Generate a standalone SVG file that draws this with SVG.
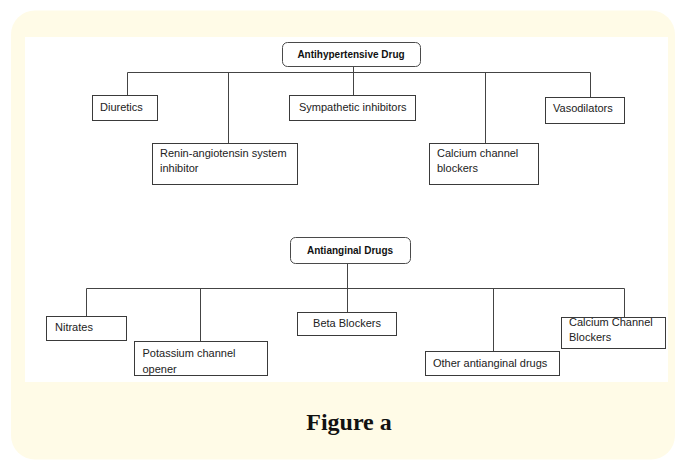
<svg xmlns="http://www.w3.org/2000/svg" width="679" height="462" viewBox="0 0 679 462">
  <style>
    .box { fill: #ffffff; stroke: #3a3a3a; stroke-width: 1; }
    .root { fill: #ffffff; stroke: #4a4a4a; stroke-width: 1; }
    .lbl { font-family: "Liberation Sans", Arial, sans-serif; font-size: 11px; fill: #222; }
    .rlbl { font-family: "Liberation Sans", Arial, sans-serif; font-size: 10px; font-weight: bold; fill: #111; text-anchor: middle; }
    .conn { fill: none; stroke: #444; stroke-width: 1; }
    .cap { font-family: "Liberation Serif", "Times New Roman", serif; font-size: 24px; font-weight: bold; fill: #111; text-anchor: middle; }
  </style>
  <defs>
    <clipPath id="clipPot">
      <rect x="134.5" y="341.5" width="133" height="34"/>
    </clipPath>
  </defs>

  <!-- background panel -->
  <rect x="0" y="0" width="679" height="462" fill="#ffffff"/>
  <rect x="11" y="10.5" width="664" height="449" rx="24" ry="24" fill="#fffbe7"/>
  <rect x="25" y="37" width="643" height="345" fill="#ffffff"/>

  <!-- connectors -->
  <g id="connectors">
    <path class="conn" d="M127.5,95 V72.5 H590.5 V97"/>
    <path class="conn" d="M353.5,66 V95"/>
    <path class="conn" d="M228.5,72.5 V143"/>
    <path class="conn" d="M485.5,72.5 V143"/>
    <path class="conn" d="M86.5,317 V288.5 H624.5 V317"/>
    <path class="conn" d="M347.5,264 V312"/>
    <path class="conn" d="M200.5,288.5 V341"/>
    <path class="conn" d="M493.5,288.5 V352"/>
  </g>

  <!-- top tree -->
  <g id="antihypertensive">
    <rect class="root" x="282.5" y="42.5" width="138" height="24" rx="5" ry="5"/>
    <text class="rlbl" x="351" y="58">Antihypertensive Drug</text>
  </g>
  <g id="diuretics">
    <rect class="box" x="92.5" y="95.5" width="65" height="25"/>
    <text class="lbl" x="100" y="111">Diuretics</text>
  </g>
  <g id="renin">
    <rect class="box" x="152.5" y="143.5" width="145" height="41"/>
    <text class="lbl" x="160" y="157">Renin-angiotensin system</text>
    <text class="lbl" x="160" y="172">inhibitor</text>
  </g>
  <g id="sympathetic">
    <rect class="box" x="289.5" y="95.5" width="126" height="25"/>
    <text class="lbl" x="299" y="111">Sympathetic inhibitors</text>
  </g>
  <g id="calcium1">
    <rect class="box" x="429.5" y="143.5" width="109" height="41"/>
    <text class="lbl" x="437" y="157">Calcium channel</text>
    <text class="lbl" x="437" y="172">blockers</text>
  </g>
  <g id="vasodilators">
    <rect class="box" x="545.5" y="97.5" width="79" height="26"/>
    <text class="lbl" x="553" y="112">Vasodilators</text>
  </g>

  <!-- bottom tree -->
  <g id="antianginal">
    <rect class="root" x="290.5" y="237.5" width="120" height="26" rx="5" ry="5"/>
    <text class="rlbl" x="350" y="254">Antianginal Drugs</text>
  </g>
  <g id="nitrates">
    <rect class="box" x="46.5" y="316.5" width="80" height="24"/>
    <text class="lbl" x="55" y="331">Nitrates</text>
  </g>
  <g id="potassium">
    <rect class="box" x="134.5" y="341.5" width="133" height="34"/>
    <g clip-path="url(#clipPot)">
      <text class="lbl" x="142.5" y="357">Potassium channel</text>
      <text class="lbl" x="142.5" y="373">opener</text>
    </g>
  </g>
  <g id="beta">
    <rect class="box" x="297.5" y="312.5" width="99" height="23"/>
    <text class="lbl" x="347" y="327" text-anchor="middle">Beta Blockers</text>
  </g>
  <g id="other">
    <rect class="box" x="425.5" y="351.5" width="134" height="24"/>
    <text class="lbl" x="433" y="367">Other antianginal drugs</text>
  </g>
  <g id="calcium2">
    <rect class="box" x="561.5" y="317.5" width="104" height="31"/>
    <text class="lbl" x="569" y="326">Calcium Channel</text>
    <text class="lbl" x="569" y="341">Blockers</text>
  </g>

  <text class="cap" x="349" y="430">Figure a</text>
</svg>
